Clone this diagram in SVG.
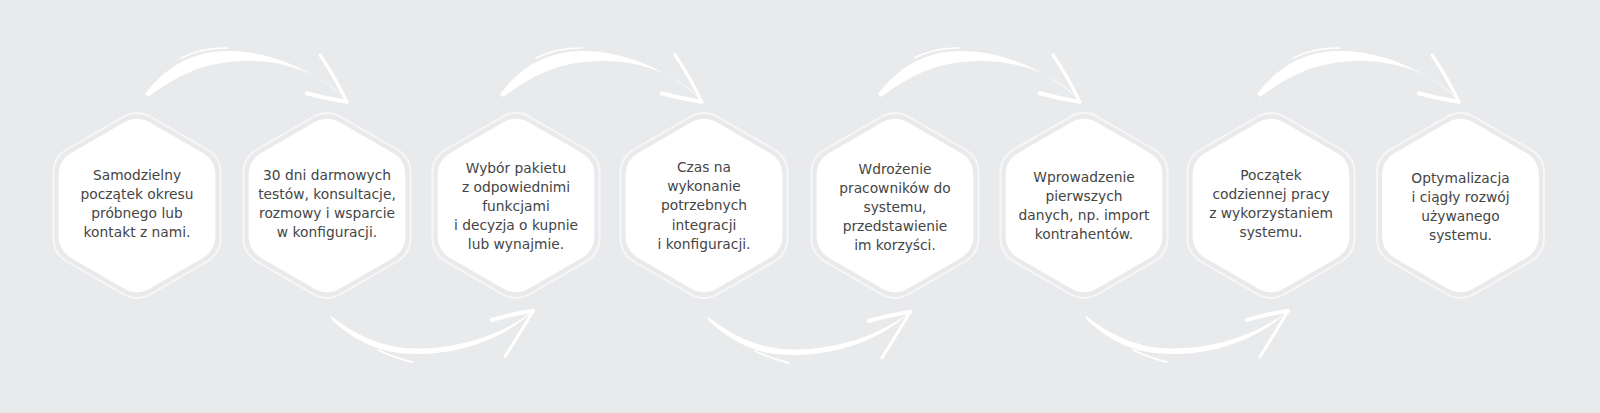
<svg xmlns="http://www.w3.org/2000/svg" xmlns:xlink="http://www.w3.org/1999/xlink" width="1600" height="413" viewBox="0 0 1600 413">
  <style>
    .bg { fill: #e9eaec; }
    .ring { fill: none; stroke: #f7f7f8; stroke-width: 2; }
    .core { fill: #ffffff; }
    .lbl { font-family: "DejaVu Sans", "Noto Sans", "Open Sans", sans-serif; font-size: 13.8px; fill: #454545; text-anchor: middle; }
    .arrow-body { fill: #ffffff; }
    .arrow-arm { fill: none; stroke: #ffffff; stroke-linecap: round; }
  </style>
  <defs>
    <path id="hex" d="M13.86,-88.5 L69.71,-56.25 Q83.57,-48.25 83.57,-32.25 L83.57,32.25 Q83.57,48.25 69.71,56.25 L13.86,88.5 Q0,96.5 -13.86,88.5 L-69.71,56.25 Q-83.57,48.25 -83.57,32.25 L-83.57,-32.25 Q-83.57,-48.25 -69.71,-56.25 L-13.86,-88.5 Q0,-96.5 13.86,-88.5 Z"/>
    <g id="arrowTop">
      <path class="arrow-body" d="M0,-1 C18,-24 42,-43 80,-44 C120,-45 165,-28 202,5 C172,-26 128,-38 85,-33 C50,-30 25,-14 3,2 Z"/>
      <path class="arrow-arm" stroke-width="1.5" d="M36,-37 Q58,-48 82,-47"/>
      <path class="arrow-arm" stroke-width="3.2" d="M175,-40 Q190,-18 201.7,6.7"/>
      <path class="arrow-arm" stroke-width="4" d="M161.7,-1.7 Q182,4 201.7,6.7"/>
    </g>
    <g id="arrowBottom">
      <path class="arrow-body" d="M0,0 C20,16 45,30 75,33 C115,36 165,25 203,-4 C172,26 122,42 75,38.5 C45,37 20,22 2,5 Z"/>
      <path class="arrow-arm" stroke-width="1.8" d="M48,35 Q65,43 82,47"/>
      <path class="arrow-arm" stroke-width="4" d="M161.7,5 Q182,-1 203.3,-4.3"/>
      <path class="arrow-arm" stroke-width="3" d="M175,41.7 Q190,18 203.3,-4.3"/>
    </g>
  </defs>

  <rect class="bg" x="0" y="0" width="1600" height="413"/>

  <g id="connectors">
    <use xlink:href="#arrowTop" href="#arrowTop" transform="translate(145,95)"/>
    <use xlink:href="#arrowBottom" href="#arrowBottom" transform="translate(330,315)"/>
    <use xlink:href="#arrowTop" href="#arrowTop" transform="translate(500,95)"/>
    <use xlink:href="#arrowBottom" href="#arrowBottom" transform="translate(707,316)"/>
    <use xlink:href="#arrowTop" href="#arrowTop" transform="translate(878,95)"/>
    <use xlink:href="#arrowBottom" href="#arrowBottom" transform="translate(1085,315)"/>
    <use xlink:href="#arrowTop" href="#arrowTop" transform="translate(1257,95)"/>
  </g>

  <g id="node-1" transform="translate(137,205.5)">
    <use class="ring" href="#hex" xlink:href="#hex"/>
    <use class="core" href="#hex" xlink:href="#hex" transform="scale(0.938)"/>
    <text class="lbl"><tspan x="0" y="-25.5">Samodzielny</tspan><tspan x="0" y="-6.5">początek okresu</tspan><tspan x="0" y="12.5">próbnego lub</tspan><tspan x="0" y="31.5">kontakt z nami.</tspan></text>
  </g>

  <g id="node-2" transform="translate(327,205.5)">
    <use class="ring" href="#hex" xlink:href="#hex"/>
    <use class="core" href="#hex" xlink:href="#hex" transform="scale(0.938)"/>
    <text class="lbl"><tspan x="0" y="-25.5">30 dni darmowych</tspan><tspan x="0" y="-6.5">testów, konsultacje,</tspan><tspan x="0" y="12.5">rozmowy i wsparcie</tspan><tspan x="0" y="31.5">w konfiguracji.</tspan></text>
  </g>

  <g id="node-3" transform="translate(516,205.5)">
    <use class="ring" href="#hex" xlink:href="#hex"/>
    <use class="core" href="#hex" xlink:href="#hex" transform="scale(0.938)"/>
    <text class="lbl"><tspan x="0" y="-32.5">Wybór pakietu</tspan><tspan x="0" y="-13.5">z odpowiednimi</tspan><tspan x="0" y="5.5">funkcjami</tspan><tspan x="0" y="24.5">i decyzja o kupnie</tspan><tspan x="0" y="43.5">lub wynajmie.</tspan></text>
  </g>

  <g id="node-4" transform="translate(704,205.5)">
    <use class="ring" href="#hex" xlink:href="#hex"/>
    <use class="core" href="#hex" xlink:href="#hex" transform="scale(0.938)"/>
    <text class="lbl"><tspan x="0" y="-34">Czas na</tspan><tspan x="0" y="-14.6">wykonanie</tspan><tspan x="0" y="4.8">potrzebnych</tspan><tspan x="0" y="24.2">integracji</tspan><tspan x="0" y="43.6">i konfiguracji.</tspan></text>
  </g>

  <g id="node-5" transform="translate(895,205.5)">
    <use class="ring" href="#hex" xlink:href="#hex"/>
    <use class="core" href="#hex" xlink:href="#hex" transform="scale(0.938)"/>
    <text class="lbl"><tspan x="0" y="-31.5">Wdrożenie</tspan><tspan x="0" y="-12.5">pracowników do</tspan><tspan x="0" y="6.5">systemu,</tspan><tspan x="0" y="25.5">przedstawienie</tspan><tspan x="0" y="44.5">im korzyści.</tspan></text>
  </g>

  <g id="node-6" transform="translate(1084,205.5)">
    <use class="ring" href="#hex" xlink:href="#hex"/>
    <use class="core" href="#hex" xlink:href="#hex" transform="scale(0.938)"/>
    <text class="lbl"><tspan x="0" y="-24">Wprowadzenie</tspan><tspan x="0" y="-4.8">pierwszych</tspan><tspan x="0" y="14.4">danych, np. import</tspan><tspan x="0" y="33.6">kontrahentów.</tspan></text>
  </g>

  <g id="node-7" transform="translate(1271,205.5)">
    <use class="ring" href="#hex" xlink:href="#hex"/>
    <use class="core" href="#hex" xlink:href="#hex" transform="scale(0.938)"/>
    <text class="lbl"><tspan x="0" y="-25.5">Początek</tspan><tspan x="0" y="-6.6">codziennej pracy</tspan><tspan x="0" y="12.3">z wykorzystaniem</tspan><tspan x="0" y="31.2">systemu.</tspan></text>
  </g>

  <g id="node-8" transform="translate(1460.5,205.5)">
    <use class="ring" href="#hex" xlink:href="#hex"/>
    <use class="core" href="#hex" xlink:href="#hex" transform="scale(0.938)"/>
    <text class="lbl"><tspan x="0" y="-22.5">Optymalizacja</tspan><tspan x="0" y="-3.5">i ciągły rozwój</tspan><tspan x="0" y="15.5">używanego</tspan><tspan x="0" y="34.5">systemu.</tspan></text>
  </g>
</svg>
